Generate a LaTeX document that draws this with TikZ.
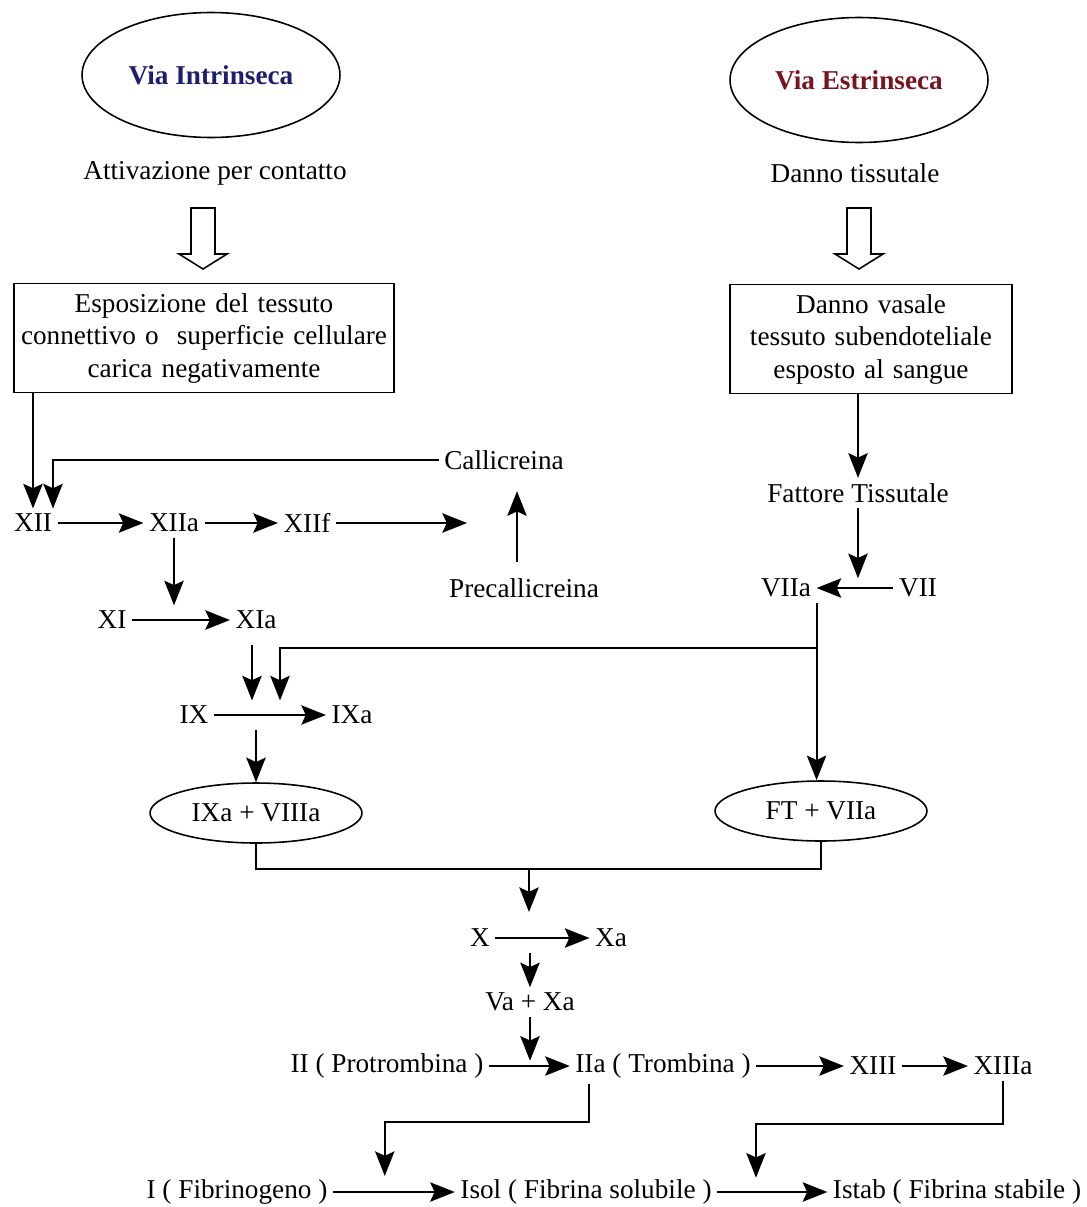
\documentclass[tikz,border=0pt]{standalone}
\usepackage{fontspec}
\setmainfont{Liberation Serif}
\usetikzlibrary{arrows.meta,positioning,calc,shapes.geometric}
\definecolor{intrblue}{RGB}{30,30,110}
\definecolor{estrred}{RGB}{120,20,30}

\begin{document}
\begin{tikzpicture}[
  x=0.02cm, y=-0.02cm,
  font=\fontsize{15.5}{18.5}\selectfont,
  lbl/.style={inner sep=3pt},
  via/.style={ellipse, draw, line width=0.9pt, minimum width=5.16cm, minimum height=2.5cm,
              font=\fontsize{15.5}{18.5}\selectfont\bfseries},
  cplx/.style={ellipse, draw, line width=0.9pt, minimum width=4.24cm, minimum height=1.2cm},
  box/.style={draw, line width=0.9pt, align=center, minimum height=2.18cm},
  ar/.style={-{Stealth[length=14pt, width=11pt, inset=2.5pt]}, line width=1.2pt},
  ln/.style={line width=1.2pt},
  hollow/.style={draw, line width=0.9pt, fill=white}
]
\useasboundingbox (0,0) rectangle (1087,1207);

% the two pathways
\node[via, text=intrblue] (vi) at (211,75) {Via Intrinseca};
\node[via, text=estrred]  (ve) at (859,80) {Via Estrinseca};
\node[lbl] (att) at (215,173) {Attivazione per contatto};
\node[lbl] (dan) at (855,173) {Danno tissutale};
\foreach \hx in {203,859}
  \draw[hollow] (\hx-12,208) -- (\hx+12,208) -- (\hx+12,254) -- (\hx+24,254)
                -- (\hx,269) -- (\hx-24,254) -- (\hx-12,254) -- cycle;
\node[box, text width=7.36cm] (esp) at (204,338)
     {Esposizione del tessuto\\connettivo o \ superficie cellulare\\carica negativamente};
\node[box, text width=5.4cm] (vas) at (871,339)
     {Danno vasale\\tessuto subendoteliale\\esposto al sangue};

% intrinsic cascade
\node[lbl] (xii)  at (33,523)  {XII};
\node[lbl] (xiia) at (174,523) {XIIa};
\node[lbl] (xiif) at (307,523) {XIIf};
\coordinate (kin) at (467,523);
\node[lbl] (cal)  at (504,460) {Callicreina};
\node[lbl] (pre)  at (524,588) {Precallicreina};
\node[lbl] (xi)   at (112,620) {XI};
\node[lbl] (xia)  at (256,620) {XIa};
\node[lbl] (ix)   at (194,715) {IX};
\node[lbl] (ixa)  at (352,715) {IXa};
\node[cplx] (ixv) at (256,813) {IXa + VIIIa};

% extrinsic cascade
\node[lbl] (fat)  at (858,493) {Fattore Tissutale};
\node[lbl] (viia) at (786,588) {VIIa};
\node[lbl] (vii)  at (918,588) {VII};
\node[cplx] (ftv) at (821,811) {FT + VIIa};

% common pathway
\coordinate (jx) at (529,869);
\node[lbl] (xf)    at (480,938)  {X};
\node[lbl] (xa)    at (611,938)  {Xa};
\node[lbl] (vax)   at (530,1002) {Va + Xa};
\node[lbl] (ii)    at (387,1066) {II ( Protrombina )};
\node[lbl] (iia)   at (663,1066) {IIa ( Trombina )};
\node[lbl] (xiii)  at (873,1066) {XIII};
\node[lbl] (xiiia) at (1003,1066) {XIIIa};
\node[lbl] (fib)   at (237,1192) {I ( Fibrinogeno )};
\node[lbl] (isol)  at (586,1192) {Isol ( Fibrina solubile )};
\node[lbl] (istab) at (957,1192) {Istab ( Fibrina stabile )};

\draw[ar] (esp.south -| xii.north) -- (xii.north);
\draw[ar] (cal.west) -| ($(xii.north)+(20,0)$);
\draw[ar] (xii) -- (xiia);
\draw[ar] (xiia) -- (xiif);
\draw[ar] (xiif) -- (kin);
\draw[ar] ($(pre.north)+(-7,-11)$) -- ($(cal.south)+(13,16)$);
\draw[ar] (xiia.south) -- (xiia.south |- xia.north);
\draw[ar] (xi) -- (xia);
\draw[ar] ($(xia.south)+(-4,10)$) -- ($(xia.south |- ix.north)+(-4,0)$);
\draw[ar] (ix) -- (ixa);
\draw[ar] (ixv.north |- ix.south) -- (ixv.north);

\draw[ar] (vas.south -| fat.north) -- (fat.north);
\draw[ar] (fat.south) -- ++(0,70);
\draw[ar] (vii) -- (viia);
\draw[ar] (viia.south east) -- (viia.south east |- ftv.north);
\draw[ar] ($(viia.south east)+(0,45)$) -| ($(ix.north)+(86,0)$);

\draw[ln] (ixv.south) |- (jx) -| (ftv.south);
\draw[ar] (jx) -- ++(0,43);
\draw[ar] (xf) -- (xa);
\draw[ar] (vax.north |- xf.south) -- (vax.north);
\draw[ar] (vax.south) -- ++(0,44);
\draw[ar] (ii) -- (iia);
\draw[ar] (iia) -- (xiii);
\draw[ar] (xiii) -- (xiiia);
\draw[ar] ($(iia.south west)+(19,0)$) -- ++(0,38) -| ++(-204,54);
\draw[ar] (xiiia.south) -- ++(0,43) -| ++(-247,54);
\draw[ar] (fib) -- (isol);
\draw[ar] (isol) -- (istab);
\end{tikzpicture}
\end{document}
